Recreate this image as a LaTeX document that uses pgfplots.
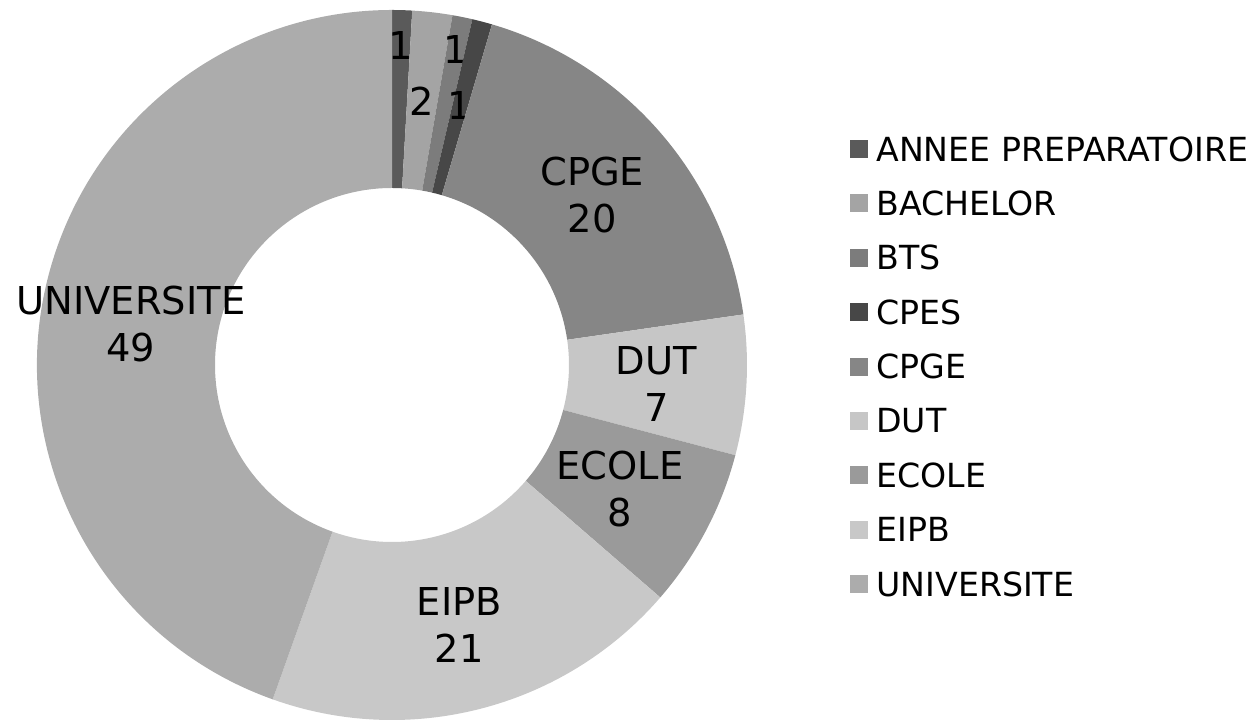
\documentclass[border=0pt]{standalone}
\usepackage{pgfplots}
\usepackage{pgfplotstable}
\pgfplotsset{compat=1.18}
\usepackage{fontspec}
\setmainfont{DejaVu Sans}

\definecolor{c0}{HTML}{5A5A5A}
\definecolor{c1}{HTML}{A4A4A4}
\definecolor{c2}{HTML}{7C7C7C}
\definecolor{c3}{HTML}{474747}
\definecolor{c4}{HTML}{868686}
\definecolor{c5}{HTML}{C6C6C6}
\definecolor{c6}{HTML}{9A9A9A}
\definecolor{c7}{HTML}{C8C8C8}
\definecolor{c8}{HTML}{ACACAC}

\pgfplotstableread[col sep=comma]{
name,value,full,r
ANNEE PREPARATOIRE,1,0,320
BACHELOR,2,0,265
BTS,1,0,322
CPES,1,0,268
CPGE,20,1,265
DUT,7,1,265
ECOLE,8,1,258
EIPB,21,1,265
UNIVERSITE,49,1,265
}\data

\begin{document}
\begin{tikzpicture}
\begin{axis}[x=0.5pt,y=0.5pt,xmin=0,xmax=1250,ymin=0,ymax=721,
  scale only axis,hide axis,clip=false]
\pgfplotstablegetrowsof{\data}
\pgfmathtruncatemacro\N{\pgfplotsretval-1}
\def\cum{0}
\def\ro{177.5pt}
\def\ri{88.5pt}
\pgfplotsforeachungrouped \i in {0,...,\N}{%
  \pgfplotstablegetelem{\i}{value}\of\data \let\v\pgfplotsretval
  \pgfplotstablegetelem{\i}{name}\of\data \let\nm\pgfplotsretval
  \pgfplotstablegetelem{\i}{full}\of\data \let\fl\pgfplotsretval
  \pgfplotstablegetelem{\i}{r}\of\data \let\rl\pgfplotsretval
  \pgfmathsetmacro\a{90-\cum/110*360}
  \pgfmathsetmacro\b{90-(\cum+\v)/110*360}
  \pgfmathsetmacro\m{(\a+\b)/2}
  \pgfmathsetmacro\lx{392+\rl*cos(\m)}
  \pgfmathsetmacro\ly{356+\rl*sin(\m)-(\fl*4)}
  \pgfmathsetmacro\cum{\cum+\v}
  \ifnum\fl=1
    \edef\lab{\nm\noexpand\\\v}
  \else
    \edef\lab{\v}
  \fi
  \edef\tmp{\noexpand\fill[c\i] ([shift={(\a:\ro)}]axis cs:392,356) arc[start angle=\a,end angle=\b,radius=\ro] -- ([shift={(\b:\ri)}]axis cs:392,356) arc[start angle=\b,end angle=\a,radius=\ri] -- cycle;}
  \tmp
  \edef\tmp{\noexpand\node[align=center,font=\noexpand\fontsize{19.2}{23.5}\noexpand\selectfont,inner sep=0pt] at (axis cs:\lx,\ly) {\lab};}
  \tmp
  \pgfmathsetmacro\legy{721-149-54.4*\i}
  \edef\tmp{\noexpand\fill[c\i] (axis cs:850,{\legy-9}) rectangle (axis cs:868,{\legy+9});
    \noexpand\node[anchor=west,inner sep=0pt,font=\noexpand\fontsize{16.6}{22.5}\noexpand\selectfont] at (axis cs:876,\legy) {\nm};}
  \tmp
}
\end{axis}
\pgfresetboundingbox
\path (current axis.south west) rectangle (current axis.north east);
\end{tikzpicture}
\end{document}
